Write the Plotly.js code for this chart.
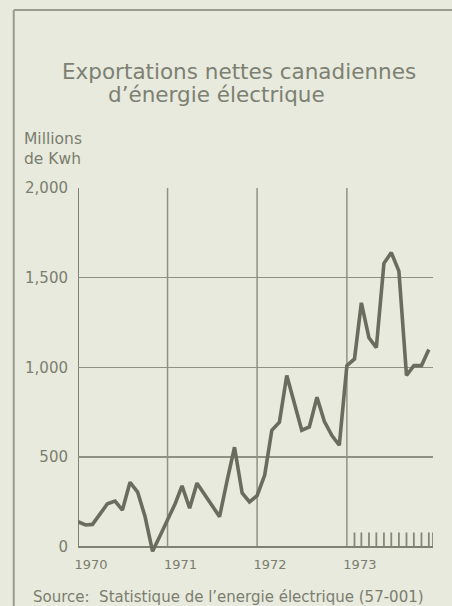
<!DOCTYPE html>
<html>
<head>
<meta charset="utf-8">
<script src="https://cdn.plot.ly/plotly-3.0.1.min.js"></script>
<style>
  html, body { margin: 0; padding: 0; background: #e7eadd; }
  #chart { width: 452px; height: 606px; }
</style>
</head>
<body>
<div id="chart"></div>
<script>
// ---- data (millions de kWh, monthly) ----
const months = ['01','02','03','04','05','06','07','08','09','10','11','12'];
const years = ['1970', '1971', '1972', '1973'];
const exp1970 = [140, 122, 125, 185, 240, 255, 205, 360, 305, 170, -25, 60];
const exp1971 = [150, 240, 340, 215, 355, 290, 225, 168, 370, 555, 300, 250];
const exp1972 = [285, 400, 650, 695, 955, 800, 650, 668, 834, 700, 620, 566];
const exp1973 = [1010, 1047, 1360, 1165, 1110, 1580, 1640, 1537, 955, 1010, 1010, 1100];
const yTickVals = [0, 500, 1000, 1500, 2000];
const yTickText = ['0', '500', '1,000', '1,500', '2,000'];
const titleLine1 = 'Exportations nettes canadiennes';
const titleLine2 = 'd’énergie électrique';
const unitText = 'Millions<br>de Kwh';
const sourceText = 'Source:  Statistique de l’energie électrique (57-001)';

const series = [exp1970, exp1971, exp1972, exp1973];
const xs = [], ys = [];
years.forEach((yr, k) => {
  months.forEach((m, j) => { xs.push(yr + '-' + m + '-01'); ys.push(series[k][j]); });
});

const ink = '#6a6d5e';
const gridC = '#8f9282';
const textC = '#7b7e6f';
const FONT = 'DejaVu Sans, Liberation Sans, sans-serif';

const shapes = [];
// left axis line + vertical year grid lines (from 0 to 2000)
years.forEach((yr, k) => {
  shapes.push({type: 'line', layer: 'below', xref: 'x', yref: 'y',
    x0: yr + '-01-01', x1: yr + '-01-01', y0: 0, y1: 2000,
    line: {color: k === 0 ? '#7f8272' : gridC, width: k === 0 ? 2 : 1.5}});
});
// small monthly ticks in 1973
months.slice(1).forEach(m => {
  shapes.push({type: 'line', layer: 'below', xref: 'x', yref: 'y',
    x0: '1973-' + m + '-01', x1: '1973-' + m + '-01', y0: 0, y1: 80,
    line: {color: '#858878', width: 1.8}});
});
shapes.push({type: 'line', layer: 'below', xref: 'x', yref: 'y',
  x0: '1973-12-18', x1: '1973-12-18', y0: 0, y1: 80, line: {color: '#858878', width: 1.8}});
// outer frame (top and left)
shapes.push({type: 'line', xref: 'paper', yref: 'paper', x0: -0.181, x1: 1.2, y0: 1.486, y1: 1.486,
  line: {color: '#9a9c8e', width: 2}});
shapes.push({type: 'line', xref: 'paper', yref: 'paper', x0: -0.181, x1: -0.181, y0: 1.486, y1: -0.2,
  line: {color: '#9a9c8e', width: 2}});

const trace = {
  type: 'scatter', mode: 'lines', x: xs, y: ys,
  line: {color: ink, width: 3.6, shape: 'linear'},
  hoverinfo: 'skip'
};

const layout = {
  width: 452, height: 606,
  margin: {l: 77.5, r: 19, t: 188, b: 52},
  paper_bgcolor: '#e7eadd', plot_bgcolor: '#e7eadd',
  showlegend: false,
  font: {family: FONT, color: textC},
  xaxis: {
    type: 'date', range: ['1970-01-01', '1973-12-18'],
    tickvals: years.map(y => y + '-01-01'), ticktext: years,
    showgrid: false, zeroline: false, showline: false, ticks: '',
    ticklabelshift: 13, ticklabelstandoff: 1,
    tickfont: {family: FONT, size: 13, color: textC}
  },
  yaxis: {
    range: [-40, 2000], tickvals: yTickVals, ticktext: yTickText,
    showgrid: true, gridcolor: gridC, gridwidth: 1.5,
    zeroline: true, zerolinecolor: '#7f8272', zerolinewidth: 2.5,
    showline: false, ticks: '', ticklabelstandoff: 9,
    tickfont: {family: FONT, size: 15, color: textC}
  },
  shapes: shapes,
  annotations: [
    {text: titleLine1, xref: 'paper', yref: 'paper', x: 0.453, y: 1.3195, xanchor: 'center', yanchor: 'middle',
      showarrow: false, font: {family: FONT, size: 21.5, color: '#7d8072'}},
    {text: titleLine2, xref: 'paper', yref: 'paper', x: 0.391, y: 1.2567, xanchor: 'center', yanchor: 'middle',
      showarrow: false, font: {family: FONT, size: 21.5, color: '#7d8072'}},
    {text: unitText, xref: 'paper', yref: 'paper', x: -0.157, y: 1.1055, xanchor: 'left', yanchor: 'middle',
      align: 'left', showarrow: false, font: {family: FONT, size: 15.5, color: textC}},
    {text: sourceText, xref: 'paper', yref: 'paper', x: -0.1336, y: -0.1169, xanchor: 'left', yanchor: 'middle',
      showarrow: false, font: {family: FONT, size: 15, color: textC}}
  ]
};

Plotly.newPlot('chart', [trace], layout, {displayModeBar: false, staticPlot: true});
</script>
</body>
</html>
